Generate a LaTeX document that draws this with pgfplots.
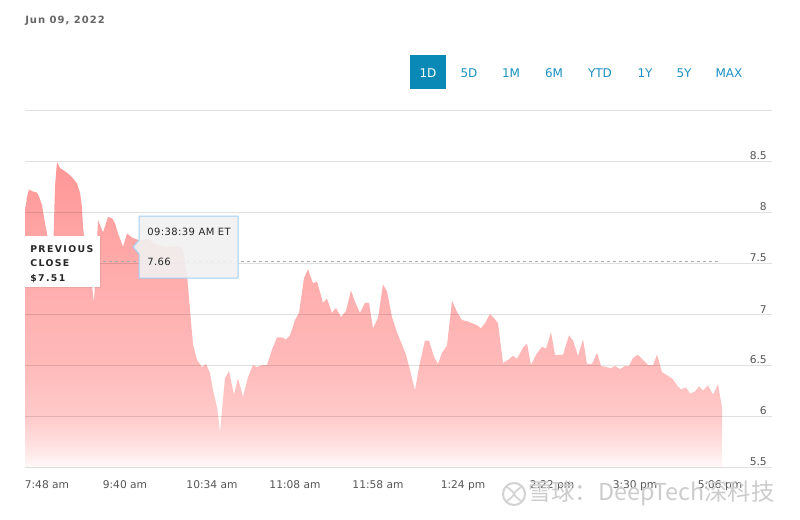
\documentclass[border=0pt]{standalone}
\usepackage{pgfplots}
\pgfplotsset{compat=1.18}
\usepackage{pgfplotstable}
\usepackage{fontspec}
\setmainfont{DejaVu Sans}
\newfontfamily\cjk{Noto Sans CJK SC}
\newfontfamily\spacedfont[LetterSpace=15]{DejaVu Sans}
\newfontfamily\datefont[LetterSpace=10]{DejaVu Sans}
\newfontfamily\tipfont[LetterSpace=4]{DejaVu Sans}
\usetikzlibrary{shadows}

\definecolor{tickgray}{HTML}{555555}
\definecolor{dategray}{HTML}{666666}
\definecolor{btnblue}{HTML}{0A89B7}
\definecolor{btntext}{HTML}{1B91C2}
\definecolor{tipborder}{HTML}{A3CFF2}
\definecolor{tipfill}{HTML}{F1F1F1}
\definecolor{dashgray}{HTML}{AAAAAA}
\definecolor{sh0}{RGB}{255,248,248}
\definecolor{sh1}{RGB}{255,225,225}
\definecolor{sh2}{RGB}{255,202,202}
\definecolor{sh3}{RGB}{255,186,186}
\definecolor{sh4}{RGB}{255,170,170}
\definecolor{sh5}{RGB}{255,150,150}
\pgfdeclareverticalshading{pinkfade}{100bp}{color(0bp)=(sh0); color(25bp)=(sh0); color(28.6bp)=(sh1); color(33.3bp)=(sh2); color(41.7bp)=(sh3); color(58.3bp)=(sh4); color(75bp)=(sh5); color(100bp)=(sh5)}

\pgfplotstableread{
t p
25 8.00
27 8.15
29 8.22
33 8.20
37 8.19
39 8.15
42 8.07
45 7.89
47 7.79
50 7.60
53 7.55
55 8.25
57 8.49
60 8.43
65 8.40
70 8.36
73 8.33
77 8.28
80 8.19
82 8.05
83 7.85
86 7.60
90 7.45
94 7.11
96 7.50
98 7.92
103 7.80
108 7.95
112 7.94
115 7.89
118 7.79
123 7.66
127 7.79
132 7.75
137 7.73
142 7.72
148 7.74
153 7.70
158 7.68
163 7.66
170 7.66
176 7.66
180 7.66
183 7.63
187 7.38
190 7.04
193 6.70
197 6.55
202 6.48
206 6.51
210 6.42
213 6.25
217 6.09
220 5.84
223 6.16
225 6.37
229 6.44
234 6.21
238 6.37
243 6.19
248 6.38
253 6.50
257 6.48
262 6.50
267 6.50
272 6.65
277 6.77
282 6.77
286 6.75
290 6.79
295 6.94
299 7.01
304 7.35
308 7.44
313 7.30
317 7.32
323 7.11
327 7.15
332 7.01
336 7.06
341 6.97
346 7.03
351 7.23
355 7.12
360 7.01
365 7.11
369 7.11
373 6.86
378 6.96
383 7.29
387 7.22
392 6.97
397 6.82
402 6.70
406 6.60
410 6.45
415 6.25
419 6.48
425 6.74
429 6.74
434 6.58
438 6.51
442 6.62
447 6.69
452 7.13
457 7.02
462 6.94
467 6.93
472 6.91
477 6.89
481 6.86
485 6.91
490 7.00
494 6.96
498 6.91
503 6.52
508 6.55
513 6.59
517 6.56
523 6.67
527 6.71
531 6.50
536 6.60
542 6.68
546 6.66
551 6.82
555 6.60
563 6.60
569 6.79
573 6.74
578 6.59
583 6.75
587 6.51
592 6.51
597 6.62
601 6.49
606 6.48
611 6.47
615 6.49
620 6.46
625 6.49
629 6.49
633 6.57
638 6.60
643 6.55
648 6.50
653 6.50
657 6.60
662 6.43
667 6.40
673 6.36
677 6.30
681 6.26
686 6.28
690 6.22
695 6.24
699 6.29
703 6.25
708 6.30
713 6.21
718 6.31
722 6.09
}\pricedata

\begin{document}
\begin{tikzpicture}[x=0.75pt,y=-0.75pt]
\useasboundingbox (0,0) rectangle (800,519);
\fill[white] (0,0) rectangle (800,519);
\begin{axis}[
  at={(18.75pt,-350.25pt)}, anchor=south west,
  scale only axis, width=560.25pt, height=267.75pt,
  xmin=25, xmax=772, ymin=5.5, ymax=9,
  axis on top,
  axis line style={draw=none},
  major tick length=0pt,
  ytick={5.5,6,6.5,7,7.5,8,8.5,9},
  yticklabels={5.5,6,6.5,7,7.5,8,8.5,{}},
  yticklabel pos=right,
  yticklabel style={anchor=south east, inner sep=0pt, xshift=-3.75pt, yshift=0.5pt, font=\fontsize{8}{9}\selectfont, text=tickgray},
  ymajorgrids,
  major grid style={draw=black, draw opacity=0.12, line width=0.75pt},
  xtick={47,125,212,295,378,463,552,635,720},
  xticklabels={7:48 am, 9:40 am, 10:34 am, 11:08 am, 11:58 am, 1:24 pm, 2:22 pm, 3:30 pm, 5:06 pm},
  xticklabel style={anchor=north, inner sep=0pt, yshift=-9.75pt, font=\fontsize{8}{9}\selectfont, text=tickgray},
]
\addplot[draw=none, shading=pinkfade] table[x=t, y=p] {\pricedata} \closedcycle;
\addplot[draw=dashgray, line width=0.75pt, dash pattern=on 2.25pt off 2.25pt] coordinates {(25,7.51) (720,7.51)};
\end{axis}

% date
\node[anchor=base west, inner sep=0pt, text=dategray, font=\datefont\bfseries\fontsize{7.5}{9}\selectfont] at (25,23) {Jun 09, 2022};

% range buttons
\fill[btnblue] (410,55) rectangle (446,89);
\node[text=white, font=\fontsize{9}{10}\selectfont] at (428,73) {1D};
\foreach \lab/\xx in {5D/469, 1M/511, 6M/554, YTD/600, 1Y/645, 5Y/684, MAX/729}
  \node[text=btntext, font=\fontsize{9}{10}\selectfont] at (\xx,73) {\lab};

% previous close box
\path[fill=white, drop shadow={opacity=0.18, shadow xshift=0.75pt, shadow yshift=-0.75pt}] (25,236) rectangle (100,287);
\node[anchor=base west, inner sep=0pt, text=black!85, font=\spacedfont\bfseries\fontsize{7}{8}\selectfont] at (30,252) {PREVIOUS};
\node[anchor=base west, inner sep=0pt, text=black!85, font=\spacedfont\bfseries\fontsize{7}{8}\selectfont] at (30,266) {CLOSE};
\node[anchor=base west, inner sep=0pt, text=black!85, font=\spacedfont\bfseries\fontsize{7}{8}\selectfont] at (30,281) {\$7.51};

% tooltip
\path[fill=tipfill, fill opacity=0.9, draw=tipborder, line width=0.75pt] (139,216) -- (238,216) -- (238,278) -- (139,278) -- (139,254) -- (133,247) -- (139,240) -- cycle;
\node[anchor=base west, inner sep=0pt, text=black!85, font=\tipfont\fontsize{7.5}{9}\selectfont] at (147,235) {09:38:39 AM ET};
\node[anchor=base west, inner sep=0pt, text=black!85, font=\tipfont\fontsize{7.5}{9}\selectfont] at (147,265) {7.66};

% watermark
\draw[gray!35, line width=1.5pt] (514,494) circle (11);
\draw[gray!35, line width=1.3pt] (507,487) .. controls (516,494) .. (507,501);
\draw[gray!35, line width=1.3pt] (521,487) .. controls (512,494) .. (521,501);
\node[anchor=base west, inner sep=0pt, text=gray!40, font=\cjk\fontsize{17.5}{19}\selectfont] at (528,500) {雪球：DeepTech深科技};
\end{tikzpicture}
\end{document}
